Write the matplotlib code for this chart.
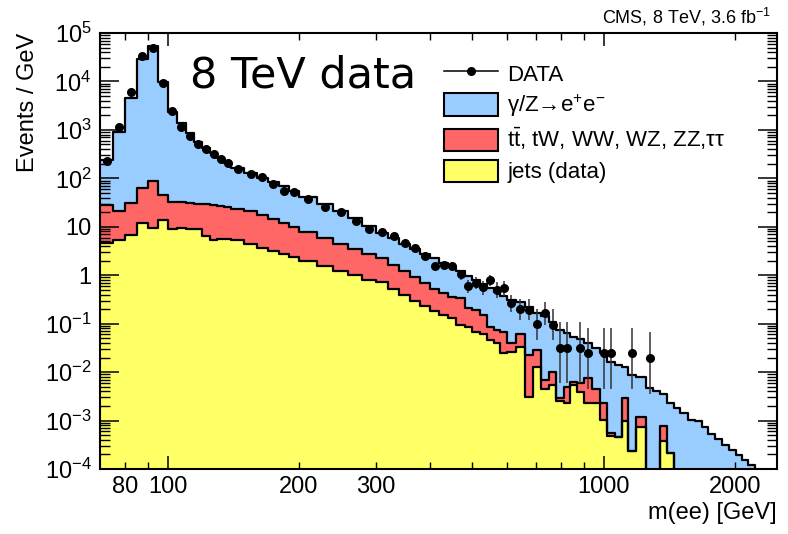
import numpy as np
import matplotlib
matplotlib.use('Agg')
import matplotlib.pyplot as plt
from matplotlib.ticker import FixedLocator, FixedFormatter, LogLocator, NullFormatter
from matplotlib.lines import Line2D
from matplotlib.patches import Patch

plt.rcParams['font.family'] = ['Liberation Sans', 'DejaVu Sans']
plt.rcParams['mathtext.fontset'] = 'custom'
plt.rcParams['mathtext.rm'] = 'Liberation Sans'
plt.rcParams['mathtext.it'] = 'Liberation Sans'
plt.rcParams['mathtext.bf'] = 'Liberation Sans:bold'

# bin edges in GeV
edges = [70, 75, 80, 85, 90, 95, 100, 105, 110, 115, 120, 125, 130, 135, 140,
         150, 160, 170, 180, 190, 200,
         220, 240, 260, 280, 300, 320, 340, 360, 380, 400, 420, 440, 460, 480,
         500, 520, 540, 560, 580, 600,
         630, 660, 690, 720, 750, 780, 810, 840, 870, 900,
         940, 980, 1020, 1060, 1100, 1140,
         1190, 1250, 1300, 1350, 1400, 1450, 1500, 1560, 1620, 1680, 1740,
         1800, 1870, 1940, 2010, 2080, 2150, 2230]

# stacked levels (events / GeV): top of blue, top of red, top of yellow
stack_total = [239, 918, 4620, 28600, 54000, 9880, 2375, 1365, 852, 570, 417, 329, 259, 204,
               165, 130, 104, 84, 68, 56,
               42, 30, 21.5, 15.5, 10.5, 7.6, 5.8, 4.5, 3.5, 2.8, 2.25, 1.8, 1.5, 1.2,
               0.97, 0.80, 0.65, 0.54, 0.45, 0.372,
               0.308, 0.284, 0.224, 0.163, 0.144, 0.110, 0.074, 0.063, 0.054, 0.0475,
               0.0405, 0.031, 0.0244, 0.0164, 0.014, 0.0129,
               0.0087, 0.0080, 0.0046, 0.0040, 0.0036, 0.0023, 0.0018, 0.0014, 0.00105,
               0.00098, 0.00075, 0.00054, 0.00042, 0.00031, 0.00025, 0.00019, 0.00015, 0.00012]

stack_ttbar = [28, 21.5, 30.5, 62, 89, 45, 33, 32, 31, 30, 29, 28, 26.5, 25.5,
               23.5, 20.9, 17.1, 14.2, 11.9, 10.0,
               7.9, 5.9, 4.5, 3.5, 2.8, 2.28, 1.65, 1.21, 0.91, 0.69, 0.53, 0.42, 0.36, 0.34,
               0.21, 0.19, 0.15, 0.087, 0.075, 0.068,
               0.039, 0.060, 0.023, 0.029, 0.0069, 0.0102, 0.00287, 0.0050, 0.0063, 0.0059,
               0.0077, 0.0044, 0.0023, 0.00055, 0.00046, 0.0029,
               0.00024, 0.0012, 0, 0, 0.00077, 0.00021, 0, 0, 0,
               0, 0, 0, 0, 0, 0, 0, 0, 0]

stack_jets = [4.7, 5.3, 6.8, 12.1, 9.3, 13.8, 8.9, 9.3, 9.2, 9.2, 6.5, 5.3, 5.7, 5.6,
              5.3, 4.4, 3.7, 3.2, 2.75, 2.4,
              1.95, 1.53, 1.22, 0.99, 0.80, 0.71, 0.53, 0.40, 0.30, 0.236, 0.185, 0.148, 0.129, 0.094,
              0.085, 0.068, 0.060, 0.046, 0.040, 0.0244,
              0.026, 0.033, 0.0031, 0.0129, 0.0044, 0.0054, 0.0025, 0.0023, 0.0054, 0.0039,
              0.00226, 0.00226, 0.00103, 0.00048, 0.00046, 0.0010,
              0.00024, 0.00075, 0, 0, 0.00038, 0.00021, 0, 0, 0,
              0, 0, 0, 0, 0, 0, 0, 0, 0]

nan = np.nan
data = [229, 1164, 6160, 33500, 48300, 9130, 2400, 1164, 748, 520, 400, 320, 255, 210,
        153, 123, 105, 75, 55.5, 51,
        36.8, 26, 19.9, 13.2, 9.0, 7.9, 6.45, 4.69, 3.70, 2.49, 1.55, 1.63, 1.55, 1.04,
        0.60, 0.70, 0.56, 0.80, 0.49, 0.55,
        0.262, 0.198, 0.191, 0.099, 0.163, 0.094, 0.032, 0.032, nan, 0.032,
        0.0244, nan, 0.0244, 0.0244, nan, nan,
        0.0244, nan, 0.0192, nan, nan, nan, nan, nan, nan,
        nan, nan, nan, nan, nan, nan, nan, nan, nan]

data_err_dn = [0] * 25 + [0.63, 0.57, 0.48, 0.43, 0.35, 0.28, 0.29, 0.28, 0.23,
                          0.17, 0.19, 0.17, 0.20, 0.145, 0.17,
                          0.088, 0.077, 0.070, 0.053, 0.068, 0.048, 0.026, 0.026, 0, 0.026,
                          0.020, 0, 0.020, 0.020, 0, 0,
                          0.020, 0, 0.0157] + [0] * 15
data_err_up = [0] * 25 + [0.63, 0.57, 0.48, 0.43, 0.35, 0.28, 0.29, 0.28, 0.23,
                          0.19, 0.21, 0.19, 0.22, 0.22, 0.20,
                          0.136, 0.121, 0.128, 0.098, 0.116, 0.103, 0.078, 0.078, 0, 0.078,
                          0.058, 0, 0.058, 0.058, 0, 0,
                          0.058, 0, 0.047] + [0] * 15

c_dy = '#99ccff'
c_tt = '#ff6666'
c_jets = '#ffff66'

fig = plt.figure(figsize=(7.88, 5.34), dpi=100)
ax = fig.add_axes([100 / 788, 1 - 469 / 534, 677 / 788, 436 / 534])

tiny = 1e-7
x_steps = edges + [edges[-1]]
for vals, col in [(stack_total, c_dy), (stack_ttbar, c_tt), (stack_jets, c_jets)]:
    v = [val if val > 0 else tiny for val in vals]
    y_steps = v + [v[-1], tiny]
    ax.fill_between(x_steps, y_steps, tiny, step='post', color=col, lw=0)
    ax.step(x_steps, y_steps, where='post', color='k', lw=1.6)

e = np.array(edges, dtype=float)
centers = (e[:-1] + e[1:]) / 2
ax.errorbar(centers, data, yerr=[data_err_dn, data_err_up], fmt='o', color='k',
            ms=5.5, ecolor='#333333', elinewidth=1.1, capsize=0, zorder=5)

ax.set_xscale('log')
ax.set_yscale('log')
ax.set_xlim(70, 2500)
ax.set_ylim(1e-4, 1e5)

# x ticks
ax.xaxis.set_major_locator(FixedLocator([100, 1000]))
ax.xaxis.set_major_formatter(FixedFormatter(['100', '1000']))
ax.xaxis.set_minor_locator(FixedLocator([80, 90, 200, 300, 400, 500, 600, 700, 800, 900, 2000]))
ax.xaxis.set_minor_formatter(FixedFormatter(['80', '', '200', '300', '', '', '', '', '', '', '2000']))

# y ticks
ydec = [1e-4, 1e-3, 1e-2, 1e-1, 1, 10, 1e2, 1e3, 1e4, 1e5]
ylabels = ['10$^{-4}$', '10$^{-3}$', '10$^{-2}$', '10$^{-1}$', '1', '10',
           '10$^{2}$', '10$^{3}$', '10$^{4}$', '10$^{5}$']
ax.yaxis.set_major_locator(FixedLocator(ydec))
ax.yaxis.set_major_formatter(FixedFormatter(ylabels))
ax.yaxis.set_minor_locator(LogLocator(base=10, subs=np.arange(2, 10), numticks=30))
ax.yaxis.set_minor_formatter(NullFormatter())

ax.tick_params(which='both', direction='in', top=True, right=True, labelsize=17)
ax.tick_params(axis='y', which='major', length=14, width=1.1, pad=6)
ax.tick_params(axis='y', which='minor', length=7, width=1.0)
ax.tick_params(axis='x', which='major', length=9.5, width=1.1, pad=5)
ax.tick_params(axis='x', which='minor', length=5, width=1.0, pad=5)
for s in ax.spines.values():
    s.set_linewidth(1.5)

ax.set_ylabel('Events / GeV', fontsize=17, loc='top')
ax.yaxis.set_label_coords(-0.09, 1.0)
ax.set_xlabel('m(ee) [GeV]', fontsize=17, loc='right')
ax.xaxis.set_label_coords(1.0, -0.075)

handles = [Line2D([], [], color='k', marker='o', ms=5.5, lw=1.1),
           Patch(facecolor=c_dy, edgecolor='k', lw=1.5),
           Patch(facecolor=c_tt, edgecolor='k', lw=1.5),
           Patch(facecolor=c_jets, edgecolor='k', lw=1.5)]
labels = ['DATA', 'γ/Z→e$^{+}$e$^{-}$', r't$\bar{\rm t}$, tW, WW, WZ, ZZ,ττ', 'jets (data)']
ax.legend(handles, labels, loc='upper left', bbox_to_anchor=(0.485, 0.97),
          frameon=False, fontsize=16, handlelength=2.45, handleheight=1.2,
          labelspacing=0.32, handletextpad=0.4, borderpad=0.2)

fig.text(771 / 788, 1 - 24 / 534, 'CMS, 8 TeV, 3.6 fb$^{-1}$', ha='right',
         va='baseline', fontsize=13)
fig.text(190 / 788, 1 - 88 / 534, '8 TeV data', ha='left', va='baseline',
         fontsize=31, family='DejaVu Sans')

fig.savefig('out.png', dpi=100)
